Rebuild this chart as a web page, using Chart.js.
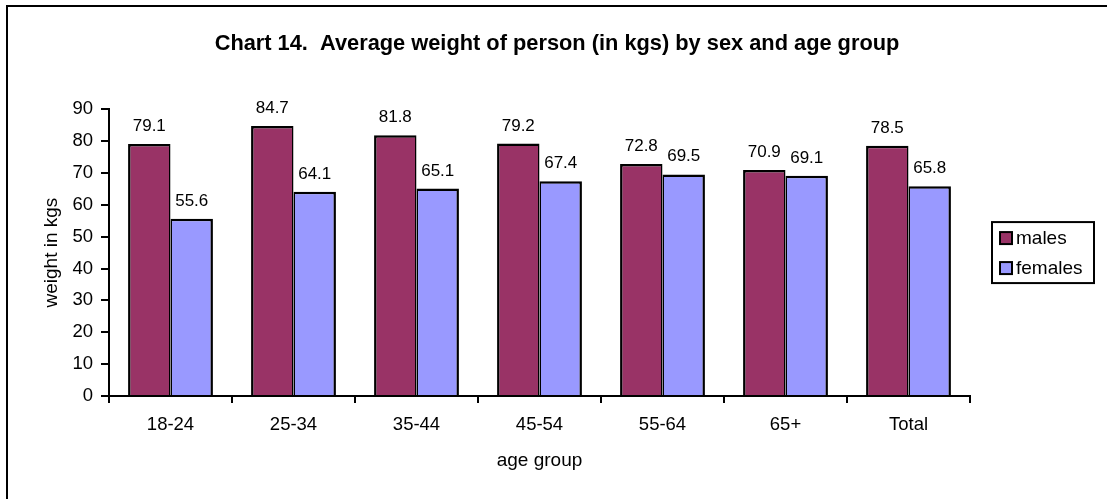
<!DOCTYPE html>
<html>
<head>
<meta charset="utf-8">
<script src="https://cdn.jsdelivr.net/npm/chart.js@4/dist/chart.umd.min.js"></script>
<style>
  html, body { margin: 0; padding: 0; background: #fff; }
  #wrap { width: 1107px; height: 499px; }
</style>
</head>
<body>
<div id="wrap"><canvas id="c" width="1107" height="499"></canvas></div>
<script>
const categories = ['18-24', '25-34', '35-44', '45-54', '55-64', '65+', 'Total'];
const males = [79.1, 84.7, 81.8, 79.2, 72.8, 70.9, 78.5];
const females = [55.6, 64.1, 65.1, 67.4, 69.5, 69.1, 65.8];
const seriesNames = ['males', 'females'];
const yTicks = [0, 10, 20, 30, 40, 50, 60, 70, 80, 90];
const titleText = 'Chart 14.  Average weight of person (in kgs) by sex and age group';
const xTitle = 'age group';
const yTitle = 'weight in kgs';

const FONT = '"Liberation Sans", Arial, Helvetica, sans-serif';

const framePlugin = {
  id: 'frame',
  beforeDraw(chart) {
    const ctx = chart.ctx;
    ctx.save();
    ctx.fillStyle = '#fff';
    ctx.fillRect(0, 0, chart.width, chart.height);
    ctx.strokeStyle = '#000';
    ctx.lineWidth = 2;
    ctx.beginPath();
    ctx.moveTo(7, chart.height);
    ctx.lineTo(7, 6);
    ctx.lineTo(chart.width, 6);
    ctx.stroke();
    ctx.restore();
  }
};

const valueLabels = {
  id: 'valueLabels',
  afterDatasetsDraw(chart) {
    const ctx = chart.ctx;
    ctx.save();
    ctx.font = '17px ' + FONT;
    ctx.fillStyle = '#000';
    ctx.textAlign = 'center';
    ctx.textBaseline = 'alphabetic';
    chart.data.datasets.forEach((ds, i) => {
      chart.getDatasetMeta(i).data.forEach((bar, j) => {
        ctx.fillText(ds.data[j].toFixed(1), bar.x, bar.y - 13);
      });
    });
    ctx.restore();
  }
};

const boxLegend = {
  id: 'boxLegend',
  afterDraw(chart) {
    const ctx = chart.ctx;
    const ca = chart.chartArea;
    const cy = (ca.top + ca.bottom) / 2;
    const bx = ca.right + 22, bw = 102, bh = 61;
    const by = cy - bh / 2;
    ctx.save();
    ctx.fillStyle = '#fff';
    ctx.fillRect(bx, by, bw, bh);
    ctx.strokeStyle = '#000';
    ctx.lineWidth = 2;
    ctx.strokeRect(bx, by, bw, bh);
    ctx.font = '19px ' + FONT;
    ctx.textBaseline = 'middle';
    ctx.textAlign = 'left';
    chart.data.datasets.forEach((ds, i) => {
      const rowY = by + 16 + i * 30;
      ctx.fillStyle = ds.backgroundColor;
      ctx.fillRect(bx + 8, rowY - 6, 12, 12);
      ctx.lineWidth = 2;
      ctx.strokeStyle = '#000';
      ctx.strokeRect(bx + 8, rowY - 6, 12, 12);
      ctx.fillStyle = '#000';
      ctx.fillText(ds.label, bx + 24, rowY + 1);
    });
    ctx.restore();
  }
};

new Chart(document.getElementById('c'), {
  type: 'bar',
  data: {
    labels: categories,
    datasets: [
      {
        label: seriesNames[0],
        data: males,
        backgroundColor: '#993366',
        borderColor: '#000',
        borderWidth: { top: 2.5, left: 2.5, right: 1.5, bottom: 0 },
        categoryPercentage: 0.69,
        barPercentage: 1.0
      },
      {
        label: seriesNames[1],
        data: females,
        backgroundColor: '#9999FF',
        borderColor: '#000',
        borderWidth: { top: 2.5, left: 1.5, right: 2.5, bottom: 0 },
        categoryPercentage: 0.69,
        barPercentage: 1.0
      }
    ]
  },
  options: {
    responsive: false,
    animation: false,
    devicePixelRatio: 1,
    layout: { padding: { left: 7, right: 0, top: 0, bottom: 0 } },
    plugins: {
      legend: { display: false },
      tooltip: { enabled: false },
      title: {
        display: true,
        text: titleText,
        color: '#000',
        font: { family: FONT, size: 21.8, weight: 'bold', lineHeight: 1.2 },
        padding: { top: 31, bottom: 52 }
      }
    },
    scales: {
      x: {
        offset: true,
        grid: { display: true, drawOnChartArea: false, drawTicks: true, tickLength: 7, color: '#000', lineWidth: 2, offset: true },
        border: { display: true, color: '#000', width: 2 },
        ticks: { color: '#000', font: { family: FONT, size: 18.5 }, padding: 11, maxRotation: 0 },
        title: { display: true, text: xTitle, color: '#000', font: { family: FONT, size: 19 }, padding: { top: 4, bottom: 27 } },
        afterFit(s) { s.height = 103; }
      },
      y: {
        min: 0,
        max: 90,
        afterBuildTicks(s) { s.ticks = yTicks.map(v => ({ value: v })); },
        grid: { display: true, drawOnChartArea: false, drawTicks: true, tickLength: 8, color: '#000', lineWidth: 2 },
        border: { display: true, color: '#000', width: 2 },
        ticks: { color: '#000', font: { family: FONT, size: 18.5 }, padding: 8 },
        title: { display: true, text: yTitle, color: '#000', font: { family: FONT, size: 19 }, padding: { top: 33, bottom: 4 } },
        afterFit(s) { s.width = 102; }
      },
      yR: {
        type: 'linear',
        position: 'right',
        display: true,
        grid: { display: false },
        border: { display: false },
        ticks: { display: false },
        afterFit(s) { s.width = 137; }
      }
    }
  },
  plugins: [framePlugin, valueLabels, boxLegend]
});
</script>
</body>
</html>
